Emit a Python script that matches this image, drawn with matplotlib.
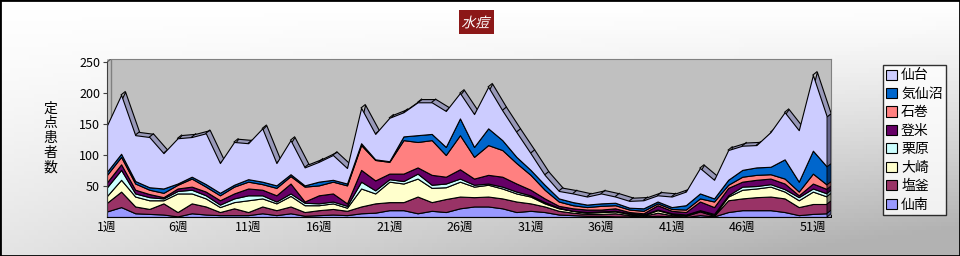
import numpy as np
import matplotlib.pyplot as plt
import matplotlib.transforms as mtransforms
from matplotlib.patches import Rectangle, Patch, PathPatch
from matplotlib.colors import to_rgb
from matplotlib.textpath import TextPath
from matplotlib.font_manager import FontProperties

plt.rcParams['font.family'] = ['Noto Sans CJK JP', 'DejaVu Sans']

weeks = np.arange(1, 53)
tick_weeks = list(range(1, 53, 5))
tick_labels = [f'{w}週' for w in tick_weeks]

# stacking order bottom -> top
names = ['仙南', '塩釜', '大崎', '栗原', '登米', '石巻', '気仙沼', '仙台']
colors = ['#9999FF', '#993366', '#FFFFCC', '#CCFFFF', '#660066', '#FF8080', '#0066CC', '#CCCCFF']

sennan = [9, 16, 6, 5, 4, 1, 6, 4, 3, 3, 3, 6, 3, 6, 2, 3, 4, 3, 6, 7, 11, 11, 6, 10, 8, 14,
          17, 17, 14, 8, 10, 8, 4, 3, 2, 2, 1, 1, 1, 2, 1, 0, 3, 1, 8, 11, 11, 11, 8, 3, 5, 6]
shiogama = [14, 25, 11, 8, 18, 7, 16, 13, 5, 11, 5, 11, 8, 11, 6, 8, 9, 7, 11, 15, 13, 13, 27, 14, 21, 19,
            15, 16, 16, 17, 12, 9, 6, 4, 3, 3, 5, 2, 1, 5, 2, 2, 6, 1, 19, 19, 21, 22, 22, 13, 16, 15]
osaki = [11, 19, 16, 14, 5, 30, 16, 13, 8, 10, 19, 13, 11, 17, 11, 8, 9, 5, 29, 16, 33, 30, 29, 23, 19, 24,
         17, 19, 16, 13, 11, 5, 4, 3, 2, 3, 3, 2, 1, 4, 2, 1, 1, 1, 6, 14, 14, 16, 11, 11, 20, 12]
kurihara = [14, 16, 5, 5, 3, 4, 6, 5, 4, 6, 8, 5, 3, 4, 4, 3, 3, 3, 11, 5, 4, 4, 8, 5, 6, 5,
            3, 2, 3, 3, 2, 2, 1, 0, 1, 1, 1, 1, 1, 1, 1, 1, 1, 2, 2, 5, 4, 4, 4, 5, 5, 5]
tome = [8, 9, 6, 5, 2, 4, 5, 6, 7, 8, 11, 9, 10, 16, 2, 13, 13, 4, 19, 16, 9, 12, 10, 16, 11, 15,
        10, 14, 16, 13, 9, 6, 3, 4, 4, 3, 4, 2, 2, 7, 4, 4, 14, 11, 12, 8, 10, 9, 9, 3, 8, 7]
ishinomaki = [12, 12, 10, 7, 7, 6, 13, 8, 8, 11, 11, 9, 12, 12, 24, 16, 19, 29, 40, 33, 19, 54, 41, 56, 35, 55,
              35, 48, 43, 33, 24, 14, 7, 5, 4, 6, 5, 4, 4, 3, 3, 4, 5, 9, 5, 8, 8, 7, 8, 6, 16, 7]
kesennuma = [5, 5, 4, 4, 7, 2, 3, 4, 4, 3, 4, 4, 4, 3, 2, 6, 3, 3, 3, 1, 1, 6, 11, 10, 13, 27,
             16, 27, 16, 10, 8, 8, 5, 5, 4, 4, 4, 3, 4, 3, 3, 7, 8, 5, 8, 11, 12, 12, 31, 16, 37, 29]
sendai = [75, 95, 74, 81, 57, 73, 64, 82, 48, 69, 58, 86, 36, 55, 29, 32, 40, 25, 57, 41, 70, 39, 53, 51, 58, 41,
          53, 67, 48, 40, 27, 16, 12, 14, 13, 16, 10, 11, 13, 10, 17, 22, 41, 30, 48, 39, 36, 56, 76, 83, 122, 80]

data = np.array([sennan, shiogama, osaki, kurihara, tome, ishinomaki, kesennuma, sendai], dtype=float)
cum = np.vstack([np.zeros(len(weeks)), np.cumsum(data, axis=0)])
total = cum[-1]

fig = plt.figure(figsize=(9.6, 2.56), dpi=100)

# background gradient
bg = fig.add_axes([0, 0, 1, 1], zorder=-10)
gx, gy = np.meshgrid(np.linspace(0, 1, 200), np.linspace(0, 1, 60))
shade = 1 - 0.30 * np.clip(gy ** 1.3 * (0.35 + 0.65 * gx) + 0.15 * gx * gy, 0, 1)
bg.imshow(np.dstack([shade] * 3), aspect='auto', extent=[0, 1, 0, 1], origin='upper')
bg.set_axis_off()
fig.patches.append(Rectangle((0, 0), 1, 1, transform=fig.transFigure, fill=False,
                             edgecolor='black', linewidth=2))

dx, dy = 0.283, 5.2  # 3D depth offset in data units
ax = fig.add_axes([107 / 960, 39 / 256, 724 / 960, 158.1 / 256])
ax.set_facecolor('#C0C0C0')
ax.set_xlim(1, 52 + dx)
ax.set_ylim(0, 255)

# top face of the whole stack (back edge)
ax.fill_between(weeks + dx, total + dy, 0, facecolor='#9898B8', edgecolor='black', linewidth=0.8, zorder=1)
for w, t in zip(weeks, total):
    ax.plot([w, w + dx], [t, t + dy], color='black', linewidth=0.8, zorder=1.5)

# front faces
for k in range(len(names)):
    ax.fill_between(weeks, cum[k], cum[k + 1], facecolor=colors[k], edgecolor='black',
                    linewidth=0.8, zorder=2)

# right side faces
for k in range(len(names)):
    r, g, b = to_rgb(colors[k])
    side = (r * 0.5, g * 0.5, b * 0.55)
    lo, hi = cum[k][-1], cum[k + 1][-1]
    ax.fill([52, 52, 52 + dx, 52 + dx], [lo, hi, hi + dy, lo + dy], facecolor=side,
            edgecolor='black', linewidth=0.6, zorder=3)

# back wall edges
ax.plot([1, 1 + dx], [250, 255], color='#606060', linewidth=1, zorder=0.5)
ax.plot([1 + dx, 1 + dx], [dy, 255], color='#808080', linewidth=1, zorder=0.5)

for s in ['top', 'right']:
    ax.spines[s].set_color('#808080')
ax.spines['top'].set_bounds(1 + dx, 52 + dx)
ax.spines['right'].set_bounds(dy, 255)
ax.spines['left'].set_bounds(0, 250)
ax.spines['left'].set_color('#404040')
ax.spines['bottom'].set_bounds(1, 52)

ax.set_yticks([50, 100, 150, 200, 250])
ax.set_yticklabels(['50', '100', '150', '200', '250'])
ax.set_xticks(tick_weeks)
ax.set_xticklabels(tick_labels)
ax.set_xticks(weeks, minor=True)
ax.tick_params(axis='both', labelsize=9, length=3, color='#404040', pad=2)
ax.tick_params(axis='x', which='minor', length=2, direction='in')
ax.tick_params(axis='x', which='major', direction='in', pad=3)

fig.text(50 / 960, 1 - 138 / 256, '\n'.join('定点患者数'), ha='center', va='center',
         fontsize=10, linespacing=1.08)

# title: red box with slanted white text
fig.patches.append(Rectangle((459 / 960, 1 - 34 / 256), 35 / 960, 24 / 256, transform=fig.transFigure,
                             facecolor='#8C1818', edgecolor='none'))
tp = TextPath((0, 0), '水痘', size=14, prop=FontProperties(family='Noto Sans CJK JP'))
ext = tp.get_extents()
cx, cy = (ext.x0 + ext.x1) / 2, (ext.y0 + ext.y1) / 2
title_tr = (mtransforms.Affine2D().translate(-cx, -cy).skew_deg(14, 0)
            .translate(476.5, 256 - 22) + mtransforms.IdentityTransform())
fig.patches.append(PathPatch(tp, transform=title_tr, facecolor='white', edgecolor='none'))

handles = [Patch(facecolor=colors[k], edgecolor='black', linewidth=0.8) for k in range(len(names))][::-1]
leg = fig.legend(handles, names[::-1], loc='upper left', bbox_to_anchor=(883 / 960, 1 - 65 / 256),
                 fontsize=10, frameon=True, fancybox=False, borderpad=0.25, labelspacing=0.32,
                 handlelength=0.75, handleheight=0.75, handletextpad=0.3, borderaxespad=0)
leg.get_frame().set_edgecolor('black')
leg.get_frame().set_linewidth(1)

fig.savefig('out.png', dpi=100)
